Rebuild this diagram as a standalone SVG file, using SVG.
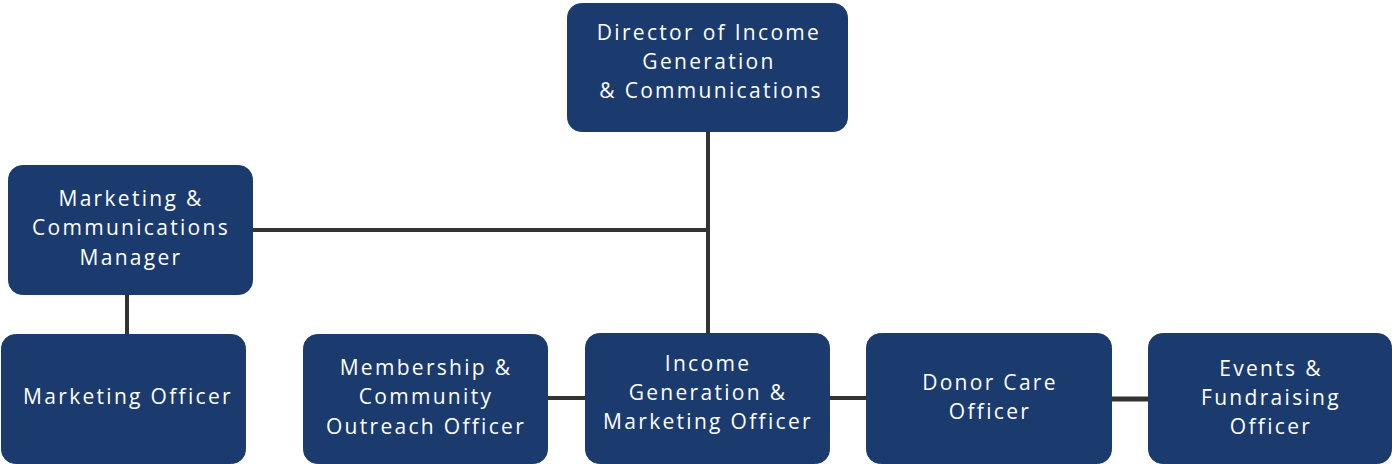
<svg xmlns="http://www.w3.org/2000/svg" width="1392" height="464" viewBox="0 0 1392 464">
<style>
.box{fill:#1b3b6f;stroke:#1b3b6f;stroke-width:1}
.lbl{fill:#ffffff;font-family:"Open Sans","Liberation Sans",sans-serif;font-size:21px;letter-spacing:2.3px;text-anchor:middle}
.con{stroke:#333333;stroke-width:4;fill:none}
</style>
<rect width="1392" height="464" fill="#ffffff"/>
<g id="connectors">
<line class="con" x1="708" y1="132" x2="708" y2="334"/>
<line class="con" x1="253" y1="230" x2="708" y2="230"/>
<line class="con" x1="127" y1="295" x2="127" y2="334"/>
<line class="con" x1="548" y1="398" x2="585" y2="398"/>
<line class="con" x1="830" y1="398" x2="866" y2="398"/>
<line class="con" x1="1112" y1="399" x2="1148" y2="399" style="stroke-width:5"/>
</g>
<g id="director">
<rect class="box" x="567.5" y="3.5" width="280" height="128" rx="14"/>
<text class="lbl" x="709" y="40">Director of Income</text>
<text class="lbl" x="709" y="69">Generation</text>
<text class="lbl" x="711" y="98">&amp; Communications</text>
</g>
<g id="mc-manager">
<rect class="box" x="8.5" y="165.5" width="244" height="129" rx="14"/>
<text class="lbl" x="131" y="206">Marketing &amp;</text>
<text class="lbl" x="131" y="235">Communications</text>
<text class="lbl" x="131" y="265">Manager</text>
</g>
<g id="marketing-officer">
<rect class="box" x="1.5" y="334.5" width="244" height="129" rx="14"/>
<text class="lbl" x="128" y="404">Marketing Officer</text>
</g>
<g id="membership">
<rect class="box" x="303.5" y="334.5" width="244" height="129" rx="14"/>
<text class="lbl" x="426" y="375">Membership &amp;</text>
<text class="lbl" x="426" y="404">Community</text>
<text class="lbl" x="426" y="434">Outreach Officer</text>
</g>
<g id="income-gen">
<rect class="box" x="585.5" y="333.5" width="244" height="130" rx="14"/>
<text class="lbl" x="708" y="371">Income</text>
<text class="lbl" x="708" y="400">Generation &amp;</text>
<text class="lbl" x="708" y="429">Marketing Officer</text>
</g>
<g id="donor-care">
<rect class="box" x="866.5" y="333.5" width="245" height="130" rx="14"/>
<text class="lbl" x="990" y="390">Donor Care</text>
<text class="lbl" x="990" y="419">Officer</text>
</g>
<g id="events">
<rect class="box" x="1148.5" y="333.5" width="243" height="130" rx="14"/>
<text class="lbl" x="1271" y="376">Events &amp;</text>
<text class="lbl" x="1271" y="405">Fundraising</text>
<text class="lbl" x="1271" y="434">Officer</text>
</g>
</svg>
